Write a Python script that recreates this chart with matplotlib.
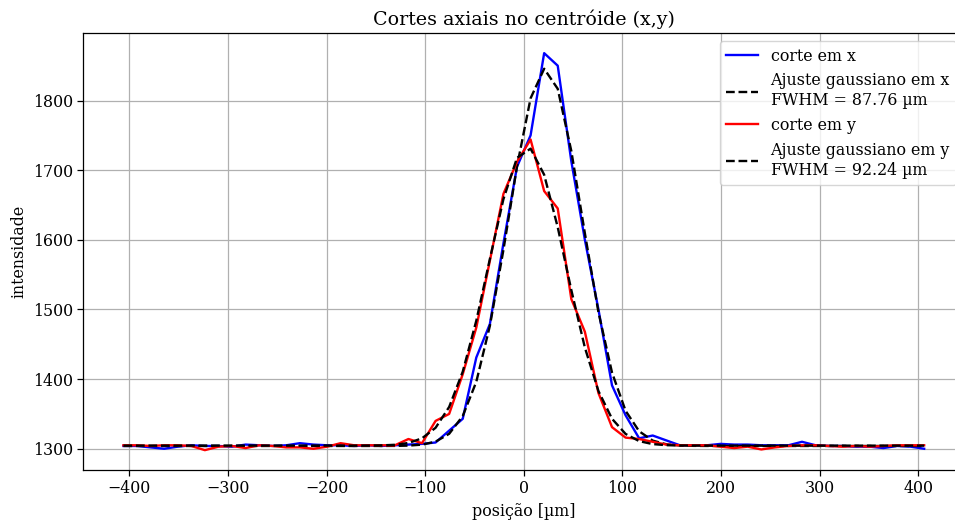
import numpy as np
import matplotlib
matplotlib.use("Agg")
import matplotlib.pyplot as plt

plt.rcParams['font.family'] = ['DejaVu Serif']
plt.rcParams['font.size'] = 11.4
plt.rcParams['axes.linewidth'] = 0.9
plt.rcParams['grid.linewidth'] = 0.9
plt.rcParams['xtick.major.size'] = 4
plt.rcParams['ytick.major.size'] = 4
plt.rcParams['xtick.major.width'] = 0.9
plt.rcParams['ytick.major.width'] = 0.9

# sample spacing of the cuts (µm), 60 samples centred on the centroid
pixel_um = 13.76
n_samples = 60

# intensity along the x cut
corte_x = [1304, 1304, 1302, 1300, 1303, 1305, 1304, 1304, 1303, 1306,
           1305, 1304, 1305, 1308, 1306, 1305, 1305, 1304, 1305, 1304,
           1305, 1306, 1307, 1309, 1326, 1343, 1431, 1479, 1595, 1705,
           1750, 1868, 1850, 1713, 1600, 1500, 1391, 1348, 1315, 1319,
           1312, 1305, 1305, 1305, 1307, 1306, 1306, 1305, 1305, 1305,
           1310, 1305, 1304, 1304, 1303, 1303, 1301, 1304, 1303, 1300]

# intensity along the y cut
corte_y = [1305, 1305, 1304, 1305, 1305, 1304, 1298, 1303, 1304, 1301,
           1305, 1304, 1302, 1302, 1300, 1303, 1308, 1305, 1305, 1305,
           1305, 1314, 1308, 1340, 1350, 1407, 1474, 1570, 1666, 1712,
           1744, 1670, 1645, 1515, 1468, 1380, 1331, 1316, 1314, 1310,
           1306, 1305, 1305, 1305, 1303, 1301, 1303, 1299, 1302, 1304,
           1305, 1305, 1304, 1303, 1304, 1303, 1304, 1305, 1305, 1305]

# gaussian fit parameters: amplitude, centre (µm), FWHM (µm), offset
ajuste_x = dict(amp=542.0, mu=22.0, fwhm=87.76, offset=1304.0)
ajuste_y = dict(amp=428.0, mu=3.5, fwhm=92.24, offset=1304.5)

pos = (np.arange(n_samples) - (n_samples - 1) / 2) * pixel_um


def gauss(x, amp, mu, fwhm, offset):
    sigma = fwhm / (2 * np.sqrt(2 * np.log(2)))
    return offset + amp * np.exp(-(x - mu) ** 2 / (2 * sigma ** 2))


fig = plt.figure(figsize=(9.55, 5.24), dpi=100)
ax = fig.add_axes([83.4 / 955, 54 / 524, 880.8 / 955, 436.7 / 524])

lw = 1.7
ax.plot(pos, corte_x, color='blue', lw=lw, label='corte em x')
ax.plot(pos, gauss(pos, **ajuste_x), 'k--', lw=lw,
        label=f'Ajuste gaussiano em x\nFWHM = {ajuste_x["fwhm"]:.2f} µm')
ax.plot(pos, corte_y, color='red', lw=lw, label='corte em y')
ax.plot(pos, gauss(pos, **ajuste_y), 'k--', lw=lw,
        label=f'Ajuste gaussiano em y\nFWHM = {ajuste_y["fwhm"]:.2f} µm')

ax.set_title('Cortes axiais no centróide (x,y)')
ax.set_xlabel('posição [µm]')
ax.set_ylabel('intensidade')
ax.set_xticks(np.arange(-400, 401, 100))
ax.set_yticks(np.arange(1300, 1801, 100))
ax.grid(True)
ax.legend(loc='upper right')

fig.savefig('out.png', dpi=100)
